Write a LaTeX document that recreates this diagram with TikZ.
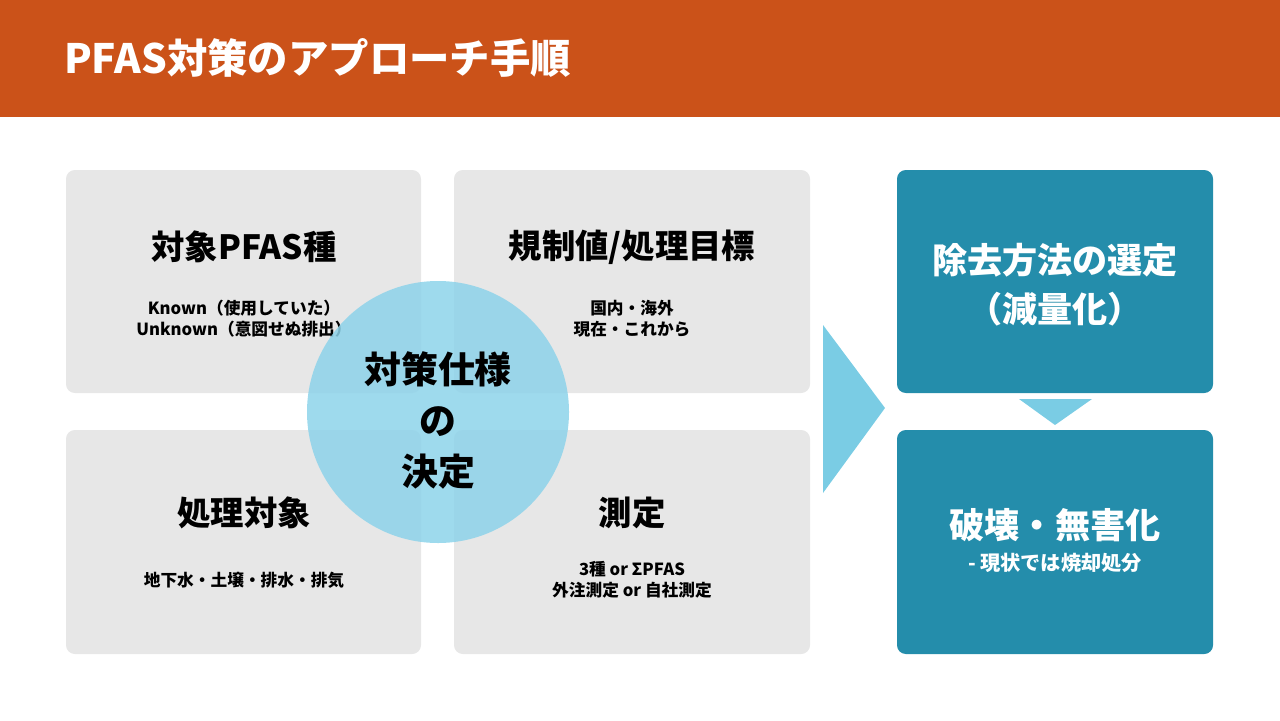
\documentclass[tikz,border=0pt]{standalone}
\usepackage{fontspec}
\setmainfont{Noto Sans CJK JP}
\usetikzlibrary{calc}
\definecolor{hdr}{HTML}{CB5219}
\definecolor{pane}{HTML}{E7E7E7}
\definecolor{sky}{HTML}{8DD3EA}
\definecolor{arw}{HTML}{7ACCE4}
\definecolor{teal}{HTML}{248DAB}
\tikzset{
  panebox/.style={fill=pane,rounded corners=5pt,draw=none},
  tealbox/.style={fill=teal,rounded corners=5pt,draw=none},
  head/.style={font=\fontsize{19}{22}\selectfont\bfseries,align=center},
  sub/.style={font=\fontsize{9.5}{12}\selectfont\bfseries,align=center}
}
\begin{document}
\begin{tikzpicture}[x=0.02cm,y=-0.02cm]
  \useasboundingbox (0,0) rectangle (1280,720);
  %--- Header --------------------------------------------------------------
  \fill[hdr] (0,0) rectangle (1280,117);
  \node[anchor=west,text=white,font=\fontsize{23}{26}\selectfont\bfseries] (title) at (58,58) {PFAS対策のアプローチ手順};

  %--- Four panes -------------------------------------------------------------
  \fill[panebox] (66,170) rectangle (421,393);
  \fill[panebox] (454,170) rectangle (810,393);
  \fill[panebox] (66,430) rectangle (421,654);
  \fill[panebox] (454,430) rectangle (810,654);

  \node[head] (tA) at (244,247) {対象PFAS種};
  \node[sub]  (sA) at (244,319) {Known（使用していた）\\Unknown（意図せぬ排出）};
  \node[head] (tB) at (632,247) {規制値/処理目標};
  \node[sub]  (sB) at (632,319) {国内・海外\\現在・これから};
  \node[head] (tC) at (244,513) {処理対象};
  \node[sub]  (sC) at (244,580) {地下水・土壌・排水・排気};
  \node[head] (tD) at (632,513) {測定};
  \node[sub]  (sD) at (632,580) {3種 or ΣPFAS\\外注測定 or 自社測定};

  %--- Centre circle ----------------------------------------------------------
  \fill[sky,opacity=0.85] (438,412) circle (131);
  \node[font=\fontsize{21}{29}\selectfont\bfseries,align=center] (spec) at (438,420) {対策仕様\\の\\決定};

  %--- Arrows and right boxes -------------------------------------------------
  \fill[arw] (823,325) -- (885,408) -- (823,493) -- cycle;
  \fill[tealbox] (897,170) rectangle (1213,393);
  \fill[tealbox] (897,430) rectangle (1213,654);
  \fill[arw] (1019,399) -- (1092,399) -- (1055,425) -- cycle;

  \node[head,text=white,font=\fontsize{20}{28}\selectfont\bfseries] (rem) at (1055,285) {除去方法の選定\\（減量化）};
  \node[head,text=white,font=\fontsize{20}{24}\selectfont\bfseries] (dst) at (1055,525) {破壊・無害化};
  \node[sub,text=white,font=\fontsize{11.5}{14}\selectfont\bfseries] (dstn) at (1055,563) {- 現状では焼却処分};
\end{tikzpicture}
\end{document}
